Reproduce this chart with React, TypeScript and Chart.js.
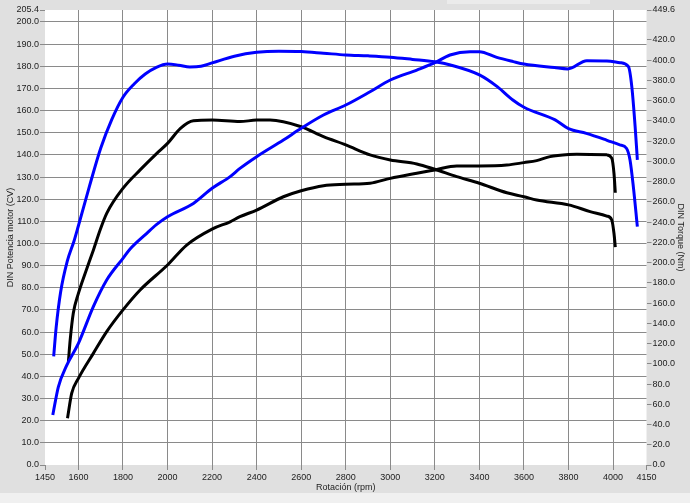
import React, { useEffect, useRef } from "react";
import { Chart, registerables } from "chart.js";

Chart.register(...registerables);

// Tick labels
const xTicks = [1450, 1600, 1800, 2000, 2200, 2400, 2600, 2800, 3000, 3200, 3400, 3600, 3800, 4000, 4150];
const powerTicks = [0, 10, 20, 30, 40, 50, 60, 70, 80, 90, 100, 110, 120, 130, 140, 150, 160, 170, 180, 190, 200, 205.4];
const torqueTicks = [0, 20, 40, 60, 80, 100, 120, 140, 160, 180, 200, 220, 240, 260, 280, 300, 320, 340, 360, 380, 400, 420, 449.6];

// Blue run - power (CV)
const bluePowerRpm = [1485, 1510, 1548, 1600, 1667, 1727, 1800, 1832, 1907, 1950, 2000, 2116, 2200, 2281, 2325, 2400, 2520, 2600, 2700, 2800, 2909, 3000, 3119, 3200, 3268, 3358, 3400, 3478, 3552, 3600, 3737, 3797, 3882, 3972, 4031, 4069, 4084, 4099, 4109];
const bluePowerCv = [22.6, 35.3, 45.1, 54.9, 71.5, 83.5, 93.3, 97.5, 104.6, 108.5, 112.1, 118.1, 124.9, 130.2, 133.9, 139.2, 146.7, 152.0, 158.0, 162.5, 168.5, 173.8, 178.3, 181.6, 185.1, 186.6, 186.6, 184.0, 182.1, 181.0, 179.4, 178.8, 182.5, 182.4, 181.6, 179.8, 170.8, 152.7, 137.7];

// Blue run - torque (Nm)
const blueTorqueRpm = [1489, 1500, 1520, 1550, 1580, 1600, 1650, 1700, 1750, 1800, 1850, 1900, 1950, 2000, 2050, 2100, 2150, 2200, 2300, 2400, 2500, 2600, 2700, 2800, 2900, 3000, 3100, 3200, 3270, 3400, 3480, 3550, 3600, 3740, 3800, 3880, 3970, 4030, 4060, 4076, 4091, 4109];
const blueTorqueNm = [107.3, 135.7, 170.7, 201.4, 221.1, 236.4, 275.8, 313.0, 341.5, 363.4, 376.5, 386.3, 392.9, 396.2, 395.1, 393.3, 394.0, 397.3, 403.9, 407.8, 408.9, 408.5, 406.9, 405.2, 404.3, 403.0, 400.8, 398.4, 395.3, 385.5, 373.9, 360.7, 353.5, 341.0, 332.3, 327.7, 321.1, 316.3, 313.0, 301.4, 274.9, 235.5];

// Black run - power (CV)
const blackPowerRpm = [1551, 1570, 1600, 1667, 1727, 1800, 1877, 2000, 2086, 2200, 2281, 2325, 2400, 2520, 2600, 2700, 2800, 2909, 3000, 3119, 3200, 3298, 3400, 3523, 3600, 3657, 3717, 3800, 3837, 3972, 3994, 4004, 4010];
const blackPowerCv = [21.1, 32.4, 39.1, 50.4, 60.2, 70.0, 79.0, 90.3, 99.3, 106.5, 109.8, 112.1, 115.1, 121.1, 123.8, 126.1, 126.7, 127.2, 129.4, 131.7, 133.2, 135.0, 135.0, 135.4, 136.5, 137.4, 139.2, 140.2, 140.3, 140.0, 138.5, 131.7, 122.9];

// Black run - torque (Nm)
const blackTorqueRpm = [1555, 1563, 1577, 1600, 1630, 1667, 1697, 1727, 1800, 1877, 1952, 2000, 2058, 2116, 2200, 2325, 2400, 2460, 2600, 2700, 2800, 2909, 3000, 3119, 3200, 3298, 3400, 3523, 3600, 3657, 3800, 3897, 3972, 3994, 4004, 4010];
const blackTorqueNm = [102.0, 123.5, 149.9, 169.6, 189.3, 212.3, 232.0, 248.7, 273.4, 291.6, 308.0, 317.8, 332.7, 340.2, 340.8, 339.3, 340.8, 340.8, 334.2, 324.4, 316.3, 306.4, 301.4, 297.5, 292.2, 285.0, 278.4, 269.0, 265.1, 261.8, 257.0, 250.4, 246.0, 242.1, 229.0, 215.2];

const toPoints = (xs: number[], ys: number[]) => xs.map((x, i) => ({ x, y: ys[i] }));

const FONT = { family: "'Liberation Sans', Arial, sans-serif", size: 9 };
const TEXT = "#222";
const GRID = "#8a8a8a";

const bgPlugin = {
  id: "bgPlugin",
  beforeDraw(chart: any) {
    const { ctx, width, height, chartArea } = chart;
    ctx.save();
    ctx.fillStyle = "#e0e0e0";
    ctx.fillRect(0, 0, width, height);
    ctx.fillStyle = "#f0f0f0";
    ctx.fillRect(0, 493, width, height - 493);
    ctx.fillStyle = "#ebebeb";
    ctx.fillRect(447, 0, 143, 4);
    ctx.fillStyle = "#ffffff";
    ctx.fillRect(chartArea.left, chartArea.top, chartArea.right - chartArea.left, chartArea.bottom - chartArea.top);
    ctx.restore();
  },
};

export default function App() {
  const ref = useRef<HTMLCanvasElement | null>(null);

  useEffect(() => {
    document.body.style.margin = "0";
    if (!ref.current) return;
    const lineStyle = { borderWidth: 3, pointRadius: 0, fill: false, cubicInterpolationMode: "monotone" as const };
    const chart = new Chart(ref.current, {
      type: "line",
      data: {
        datasets: [
          { ...lineStyle, label: "Potencia 1", data: toPoints(bluePowerRpm, bluePowerCv), borderColor: "#0000ff", yAxisID: "yP" },
          { ...lineStyle, label: "Torque 1", data: toPoints(blueTorqueRpm, blueTorqueNm), borderColor: "#0000ff", yAxisID: "yT" },
          { ...lineStyle, label: "Potencia 2", data: toPoints(blackPowerRpm, blackPowerCv), borderColor: "#000000", yAxisID: "yP" },
          { ...lineStyle, label: "Torque 2", data: toPoints(blackTorqueRpm, blackTorqueNm), borderColor: "#000000", yAxisID: "yT" },
        ],
      },
      options: {
        animation: false,
        responsive: false,
        layout: { padding: { top: 10, left: 0, right: 0, bottom: 0 } },
        plugins: { legend: { display: false }, tooltip: { enabled: false } },
        scales: {
          x: {
            type: "linear",
            min: 1450,
            max: 4150,
            afterBuildTicks: (s: any) => {
              s.ticks = xTicks.map((v) => ({ value: v }));
            },
            afterFit: (s: any) => {
              s.height = 38;
            },
            ticks: { autoSkip: false, maxRotation: 0, font: FONT, color: TEXT, padding: 2, callback: (v: any) => String(v) },
            grid: {
              color: (c: any) => (c.tick && (c.tick.value === 1450 || c.tick.value === 4150) ? "rgba(0,0,0,0)" : GRID),
              tickColor: GRID,
              tickLength: 5,
              lineWidth: 1,
            },
            border: { display: false },
            title: { display: true, text: "Rotación (rpm)", font: FONT, color: TEXT, padding: { top: 0, bottom: 10 } },
          },
          yP: {
            type: "linear",
            position: "left",
            min: 0,
            max: 205.4,
            afterBuildTicks: (s: any) => {
              s.ticks = powerTicks.map((v) => ({ value: v }));
            },
            afterFit: (s: any) => {
              s.width = 45;
            },
            ticks: { autoSkip: false, font: FONT, color: TEXT, padding: 1, callback: (v: any) => Number(v).toFixed(1) },
            grid: {
              color: (c: any) => (c.tick && (c.tick.value === 0 || c.tick.value === 205.4) ? "rgba(0,0,0,0)" : GRID),
              tickColor: GRID,
              tickLength: 5,
              lineWidth: 1,
            },
            border: { display: false },
            title: { display: true, text: "DIN Potencia motor (CV)", font: FONT, color: TEXT, padding: { top: 5, bottom: 0 } },
          },
          yT: {
            type: "linear",
            position: "right",
            min: 0,
            max: 449.6,
            afterBuildTicks: (s: any) => {
              s.ticks = torqueTicks.map((v) => ({ value: v }));
            },
            afterFit: (s: any) => {
              s.width = 43.5;
            },
            ticks: { autoSkip: false, font: FONT, color: TEXT, padding: 1, callback: (v: any) => Number(v).toFixed(1) },
            grid: { drawOnChartArea: false, tickColor: GRID, tickLength: 5, lineWidth: 1 },
            border: { display: false },
            title: { display: true, text: "DIN Torque (Nm)", font: FONT, color: TEXT, padding: { top: 4.6, bottom: 0 } },
          },
        },
      },
      plugins: [bgPlugin],
    } as any);
    return () => chart.destroy();
  }, []);

  return <canvas ref={ref} width={690} height={503} style={{ display: "block" }} />;
}
